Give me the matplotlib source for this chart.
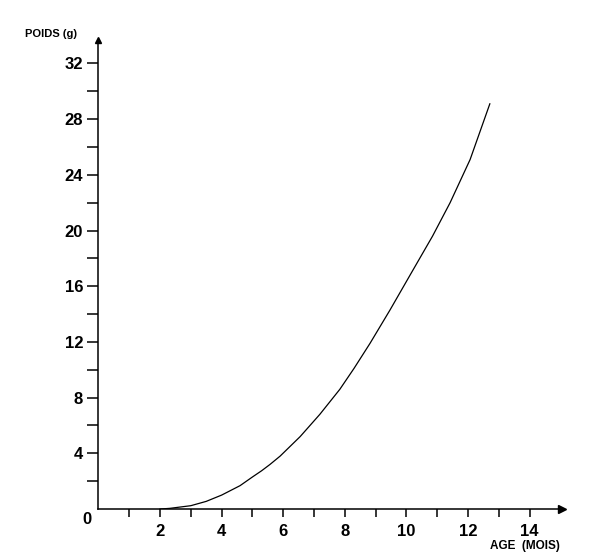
import matplotlib
matplotlib.use("Agg")
import matplotlib.pyplot as plt
from matplotlib.ticker import FixedLocator

# courbe de croissance : poids (g) en fonction de l'age (mois)
age = [2.0, 2.32, 3.0, 3.5, 4.0, 4.6, 5.0, 5.3, 5.57, 5.9, 6.55, 7.19, 7.84, 8.3,
       8.82, 9.47, 10.12, 10.85, 11.42, 12.07, 12.71]
poids = [0.0, 0.05, 0.24, 0.55, 1.0, 1.68, 2.3, 2.75, 3.2, 3.8, 5.2, 6.8, 8.6, 10.1,
         11.9, 14.3, 16.8, 19.6, 22.0, 25.1, 29.1]

x_labels = [2, 4, 6, 8, 10, 12, 14]
y_labels = [4, 8, 12, 16, 20, 24, 28, 32]

plt.rcParams['font.family'] = ['Liberation Sans', 'DejaVu Sans']

fig = plt.figure(figsize=(6, 5.6), dpi=100)
ax = fig.add_axes([0.164, 0.091, 0.7725, 0.838])

ax.plot(age, poids, color='black', lw=0.9)

ax.set_xlim(0, 15.05)
ax.set_ylim(0, 33.7)

for s in ['top', 'right']:
    ax.spines[s].set_visible(False)
for s in ['left', 'bottom']:
    ax.spines[s].set_linewidth(1.1)

# fleches au bout des axes
ax.plot(1, 0, '>k', markersize=6, transform=ax.get_yaxis_transform(), clip_on=False)
ax.plot(0, 1, '^k', markersize=5, transform=ax.get_xaxis_transform(), clip_on=False)

ax.xaxis.set_major_locator(FixedLocator(x_labels))
ax.xaxis.set_minor_locator(FixedLocator([1, 3, 5, 7, 9, 11, 13]))
ax.yaxis.set_major_locator(FixedLocator(y_labels))
ax.yaxis.set_minor_locator(FixedLocator([2, 6, 10, 14, 18, 22, 26, 30]))

ax.tick_params(which='both', direction='out', width=1.1, labelsize=12)
ax.tick_params(axis='x', which='both', length=6, pad=5)
ax.tick_params(axis='y', which='both', length=8, pad=3)
for lab in ax.get_xticklabels() + ax.get_yticklabels():
    lab.set_fontweight('bold')

fig.text(87 / 600, 1 - 520 / 560, '0', fontsize=12, fontweight='bold', ha='center', va='center')
fig.text(25 / 600, 1 - 34 / 560, 'POIDS (g)', fontsize=8, fontweight='bold', ha='left', va='center')
fig.text(560 / 600, 1 - 546 / 560, 'AGE  (MOIS)', fontsize=8.5, fontweight='bold', ha='right', va='center')

plt.savefig('out.png', dpi=100)
